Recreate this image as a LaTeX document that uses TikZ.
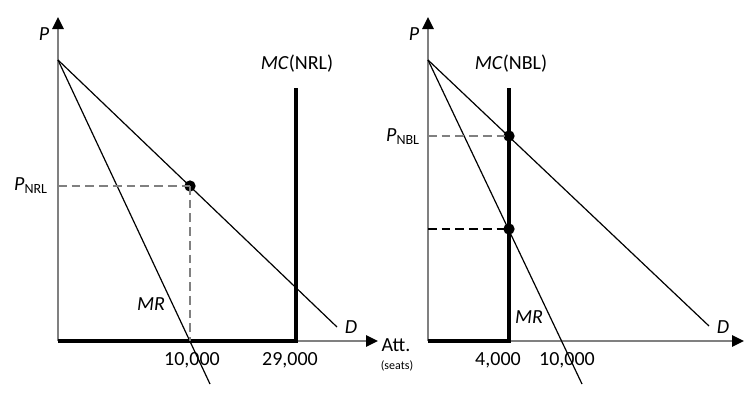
\documentclass[tikz,border=0pt]{standalone}
\usepackage{fontspec}
\setmainfont{Carlito}
\usepackage{tikz}
\usetikzlibrary{arrows.meta}

\tikzset{
    axis/.style={draw=gray, line width=1.4pt, -{Triangle[black, length=9pt, width=8.5pt]}},
    curve/.style={line width=0.9pt},
    mcline/.style={line width=3pt, line join=miter},
    guide/.style={gray, line width=1.2pt, dash pattern=on 6.5pt off 3.8pt},
    eqdot/.style={circle, fill=black, inner sep=0pt, minimum size=8.5pt},
    lbl/.style={font=\fontsize{15}{17}\selectfont, inner sep=1pt},
    small/.style={font=\fontsize{9}{11}\selectfont, inner sep=1pt}
}

\begin{document}
\begin{tikzpicture}[x=0.75pt, y=-0.75pt]
    \useasboundingbox (0,0) rectangle (754,397);

    % Define points, NRL
    \coordinate (o1) at (58,341);
    \coordinate (ytop1) at (58,17);
    \coordinate (xend1) at (378,341);
    \coordinate (a1) at (58,60);
    \coordinate (dend1) at (337,327);
    \coordinate (mrend1) at (210,384);
    \coordinate (mctop1) at (296,88);
    \coordinate (mcbot1) at (296,341);
    \coordinate (py1) at (58,186);
    \coordinate (qx1) at (190,341);

    % Define points, NBL
    \coordinate (o2) at (428,341);
    \coordinate (ytop2) at (428,17);
    \coordinate (xend2) at (744,341);
    \coordinate (a2) at (428,60);
    \coordinate (dend2) at (709,326);
    \coordinate (mrend2) at (582,384);
    \coordinate (mctop2) at (509,88);
    \coordinate (mcbot2) at (509,341);
    \coordinate (py2) at (428,136);
    \coordinate (my2) at (428,229);

    % Draw axes
    \draw[axis] (o1) -- (ytop1);
    \draw[axis] (o1) -- (xend1);
    \draw[axis] (o2) -- (ytop2);
    \draw[axis] (o2) -- (xend2);

    % Draw MC
    \draw[mcline] (o1) -- (mcbot1) -- (mctop1);
    \draw[mcline] (o2) -- (mcbot2) -- (mctop2);

    % Draw D and MR
    \draw[curve] (a1) -- (dend1);
    \draw[curve] (a1) -- (mrend1);
    \draw[curve] (a2) -- (dend2);
    \draw[curve] (a2) -- (mrend2);

    % Equilibrium points
    \node[eqdot] at (190,186) (e1) {};
    \node[eqdot] at (509,136) (e2) {};
    \node[eqdot] at (509,229) (m2) {};

    % Draw dashed lines
    \draw[guide] (py1) -- (e1.center);
    \draw[guide] (e1.center) -- (qx1);
    \draw[guide] (py2) -- (e2.center);
    \draw[guide, black] (my2) -- (m2.center);

    % Labels, NRL
    \node[lbl] at (44,34) (p1) {\textit{P}};
    \node[lbl] at (31,186) (pnrl) {\textit{P}\textsubscript{NRL}};
    \node[lbl] at (297,64) (mc1) {\textit{MC}(NRL)};
    \node[lbl] at (151,304) (mr1) {\textit{MR}};
    \node[lbl] at (351,327) (d1) {\textit{D}};
    \node[lbl] at (192,360) (q1) {10,000};
    \node[lbl] at (290,360) (k1) {29,000};
    \node[lbl, anchor=west] at (380,345) (att) {Att.};
    \node[small] at (397,366) (seats) {(seats)};

    % Labels, NBL
    \node[lbl] at (414,34) (p2) {\textit{P}};
    \node[lbl] at (403,137) (pnbl) {\textit{P}\textsubscript{NBL}};
    \node[lbl] at (511,64) (mc2) {\textit{MC}(NBL)};
    \node[lbl] at (529,317) (mr2) {\textit{MR}};
    \node[lbl] at (723,327) (d2) {\textit{D}};
    \node[lbl] at (498,360) (q2) {4,000};
    \node[lbl] at (567,360) (k2) {10,000};
\end{tikzpicture}
\end{document}
